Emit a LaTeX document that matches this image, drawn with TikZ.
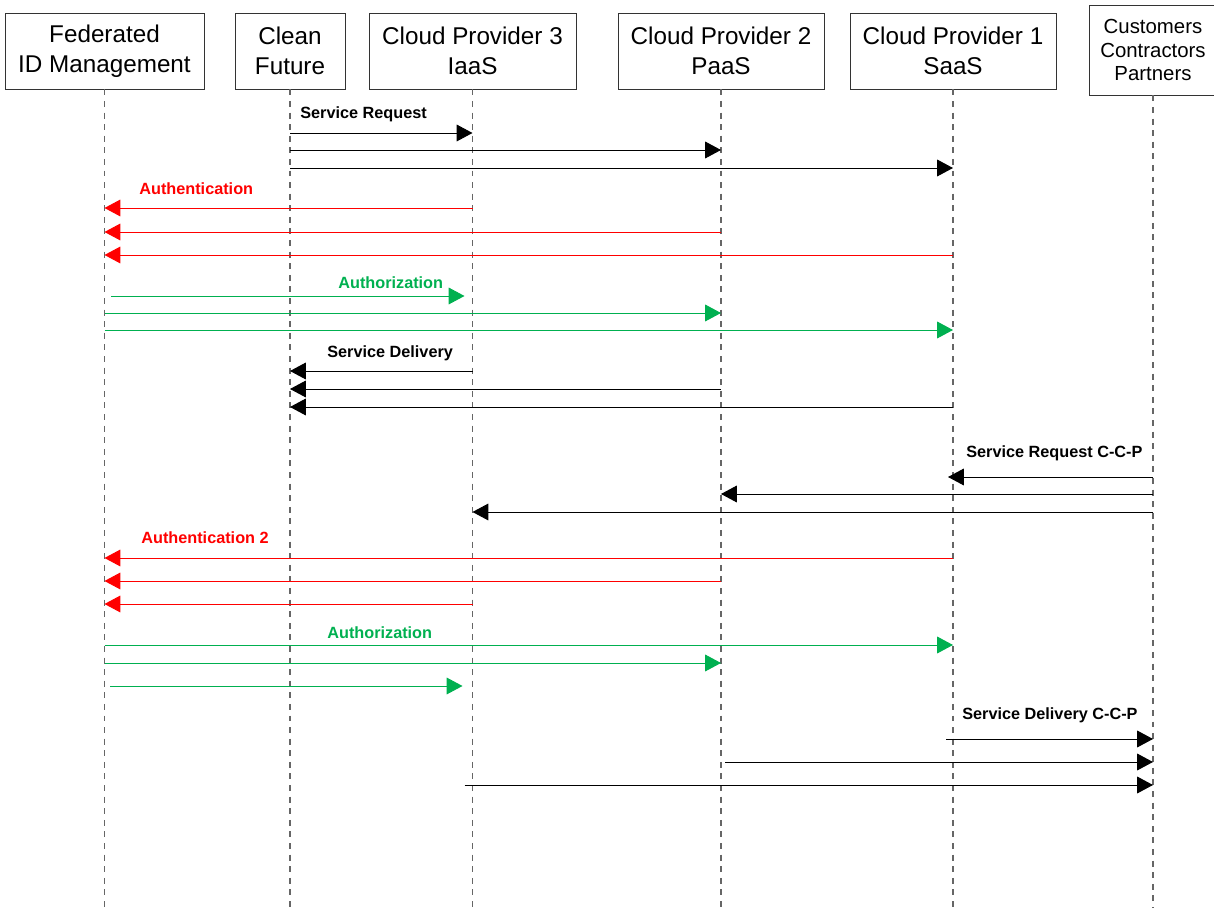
\documentclass[tikz,border=0pt]{standalone}
\usepackage{fontspec}
\setmainfont{Liberation Sans}
\usetikzlibrary{arrows.meta}
\definecolor{authred}{RGB}{255,0,0}
\definecolor{authgreen}{RGB}{0,176,80}

\begin{document}
\begin{tikzpicture}[
    x=0.02cm, y=-0.02cm,
    actor/.style={draw, black!80, text=black, minimum height=1.52cm, align=center, inner sep=0pt, font=\fontsize{13.8}{17}\selectfont},
    life/.style={dash pattern=on 3.4pt off 3.2pt, black!60, line width=0.7pt},
    msg/.style={-{Triangle[length=9pt, width=9.5pt]}, line width=0.55pt},
    lbl/.style={anchor=west, inner sep=0pt, font=\fontsize{9.25}{11}\selectfont\bfseries}
]
    \useasboundingbox (0,0) rectangle (1214,908);

    % participants
    \node[actor, minimum width=3.98cm] (fed) at (104.5,51) {Federated\\ID Management};
    \node[actor, minimum width=2.2cm] (clean) at (290,51) {Clean\\Future};
    \node[actor, minimum width=4.14cm] (cp3) at (472.5,51) {Cloud Provider 3\\IaaS};
    \node[actor, minimum width=4.12cm] (cp2) at (721,51) {Cloud Provider 2\\PaaS};
    \node[actor, minimum width=4.12cm] (cp1) at (953,51) {Cloud Provider 1\\SaaS};
    \node[actor, minimum width=2.56cm, minimum height=1.8cm, font=\fontsize{11.6}{13.6}\selectfont] (ccp) at (1153,50) {Customers\\Contractors\\Partners};

    % lifelines
    \foreach \who in {fed,clean,cp3,cp2,cp1,ccp}
        \draw[life] (\who.south) -- (\who |- 0,908);

    % service request
    \node[lbl] (sreq) at (300,114) {Service Request};
    \draw[msg] (clean |- 0,133) -- (cp3 |- 0,133);
    \draw[msg] (clean |- 0,150) -- (cp2 |- 0,150);
    \draw[msg] (clean |- 0,168) -- (cp1 |- 0,168);

    % authentication
    \node[lbl, authred] (authn) at (139,189) {Authentication};
    \draw[msg, authred] (cp3 |- 0,208) -- (fed |- 0,208);
    \draw[msg, authred] (cp2 |- 0,232) -- (fed |- 0,232);
    \draw[msg, authred] (cp1 |- 0,255) -- (fed |- 0,255);

    % authorization
    \node[lbl, authgreen] (authz) at (338,283) {Authorization};
    \draw[msg, authgreen, shorten <=0.14cm, shorten >=0.16cm] (fed |- 0,296) -- (cp3 |- 0,296);
    \draw[msg, authgreen] (fed |- 0,313) -- (cp2 |- 0,313);
    \draw[msg, authgreen] (fed |- 0,330) -- (cp1 |- 0,330);

    % service delivery
    \node[lbl] (sdel) at (327,353) {Service Delivery};
    \draw[msg] (cp3 |- 0,371) -- (clean |- 0,371);
    \draw[msg] (cp2 |- 0,389) -- (clean |- 0,389);
    \draw[msg] (cp1 |- 0,407) -- (clean |- 0,407);

    % service request C-C-P
    \node[lbl] (sreqccp) at (966,453) {Service Request C-C-P};
    \draw[msg, shorten >=-0.1cm] (ccp |- 0,477) -- (cp1 |- 0,477);
    \draw[msg] (ccp |- 0,494) -- (cp2 |- 0,494);
    \draw[msg] (ccp |- 0,512) -- (cp3 |- 0,512);

    % authentication 2
    \node[lbl, authred] (authn2) at (141,538) {Authentication 2};
    \draw[msg, authred] (cp1 |- 0,558) -- (fed |- 0,558);
    \draw[msg, authred] (cp2 |- 0,581) -- (fed |- 0,581);
    \draw[msg, authred] (cp3 |- 0,604) -- (fed |- 0,604);

    % authorization 2
    \node[lbl, authgreen] (authz2) at (327,633) {Authorization};
    \draw[msg, authgreen] (fed |- 0,645) -- (cp1 |- 0,645);
    \draw[msg, authgreen] (fed |- 0,663) -- (cp2 |- 0,663);
    \draw[msg, authgreen, shorten <=0.12cm, shorten >=0.2cm] (fed |- 0,686) -- (cp3 |- 0,686);

    % service delivery C-C-P
    \node[lbl] (sdelccp) at (962,715) {Service Delivery C-C-P};
    \draw[msg, shorten <=-0.14cm] (cp1 |- 0,739) -- (ccp |- 0,739);
    \draw[msg, shorten <=0.08cm] (cp2 |- 0,762) -- (ccp |- 0,762);
    \draw[msg, shorten <=-0.16cm] (cp3 |- 0,785) -- (ccp |- 0,785);
\end{tikzpicture}
\end{document}
